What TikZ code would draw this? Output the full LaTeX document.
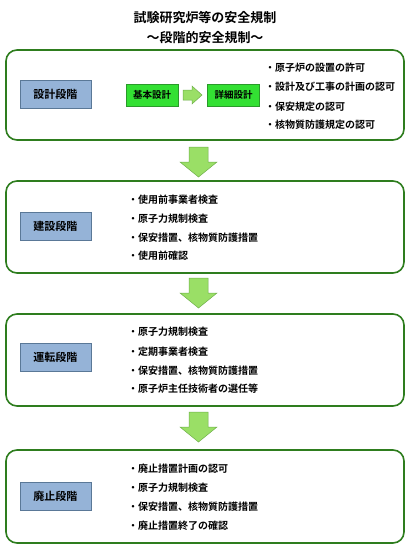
\documentclass[tikz,border=0pt]{standalone}
\usepackage{fontspec}
\newfontfamily\jp{Noto Sans CJK JP}[BoldFont={Noto Sans CJK JP Bold}]
\definecolor{frame}{HTML}{2E7D1E}
\definecolor{lblue}{HTML}{95B3D7}
\definecolor{lbord}{HTML}{5A7897}
\definecolor{bgreen}{HTML}{33E033}
\definecolor{bgbord}{HTML}{2A9A2A}
\definecolor{agreen}{HTML}{9ADF66}
\definecolor{abord}{HTML}{6FB04A}
\tikzset{
  stagebox/.style={draw=frame, line width=1.6pt, rounded corners=11pt},
  label/.style={draw=lbord, fill=lblue, line width=0.6pt, minimum width=71pt, minimum height=28pt, inner sep=0pt, font=\jp\bfseries\fontsize{11}{13}\selectfont},
  gbox/.style={draw=bgbord, fill=bgreen, line width=0.6pt, minimum width=52pt, minimum height=22pt, inner sep=0pt, font=\jp\bfseries\fontsize{9.5}{11}\selectfont},
  item/.style={anchor=west, inner sep=0pt, font=\jp\bfseries\fontsize{10}{12}\selectfont},
  bigarrow/.style={draw=abord, fill=agreen, line width=0.5pt, line join=miter},
  title/.style={font=\jp\bfseries\fontsize{13}{15}\selectfont, inner sep=0pt}
}
\newcommand{\downarr}[1]{%
  \draw[bigarrow] (189,#1) -- (208,#1) -- (208,#1+15) -- (217,#1+15) -- (198.5,#1+30) -- (180,#1+15) -- (189,#1+15) -- cycle;}
\begin{document}
\begin{tikzpicture}[x=1pt,y=-1pt]
\useasboundingbox (0,0) rectangle (410,550);
\fill[white] (0,0) rectangle (410,550);
\node[title] (t1) at (205,18) {試験研究炉等の安全規制};
\node[title] (t2) at (205,38) {～段階的安全規制～};
% stage 1
\draw[stagebox] (6,50) rectangle (404,140);
\node[label] (s1) at (55.5,94) {設計段階};
\node[gbox] (k1) at (152,95) {基本設計};
\node[gbox] (k2) at (233.5,95) {詳細設計};
\draw[bigarrow] (183,90) -- (192,90) -- (192,86) -- (202,95) -- (192,104) -- (192,100) -- (183,100) -- cycle;
\node[item] (a1) at (265,68) {・原子炉の設置の許可};
\node[item] (a2) at (265,87) {・設計及び工事の計画の認可};
\node[item] (a3) at (265,107) {・保安規定の認可};
\node[item] (a4) at (265,125) {・核物質防護規定の認可};
\downarr{147}
% stage 2
\draw[stagebox] (6,181) rectangle (404,273);
\node[label] (s2) at (55.5,226) {建設段階};
\node[item] (b1) at (128,200) {・使用前事業者検査};
\node[item] (b2) at (128,219) {・原子力規制検査};
\node[item] (b3) at (128,238) {・保安措置、核物質防護措置};
\node[item] (b4) at (128,256) {・使用前確認};
\downarr{278}
% stage 3
\draw[stagebox] (6,314) rectangle (404,406);
\node[label] (s3) at (55.5,357.5) {運転段階};
\node[item] (c1) at (128,332) {・原子力規制検査};
\node[item] (c2) at (128,352) {・定期事業者検査};
\node[item] (c3) at (128,371) {・保安措置、核物質防護措置};
\node[item] (c4) at (128,389) {・原子炉主任技術者の選任等};
\downarr{412}
% stage 4
\draw[stagebox] (6,450) rectangle (404,543);
\node[label] (s4) at (55.5,496) {廃止段階};
\node[item] (e1) at (128,469) {・廃止措置計画の認可};
\node[item] (e2) at (128,488) {・原子力規制検査};
\node[item] (e3) at (128,507) {・保安措置、核物質防護措置};
\node[item] (e4) at (128,526) {・廃止措置終了の確認};
\end{tikzpicture}
\end{document}
